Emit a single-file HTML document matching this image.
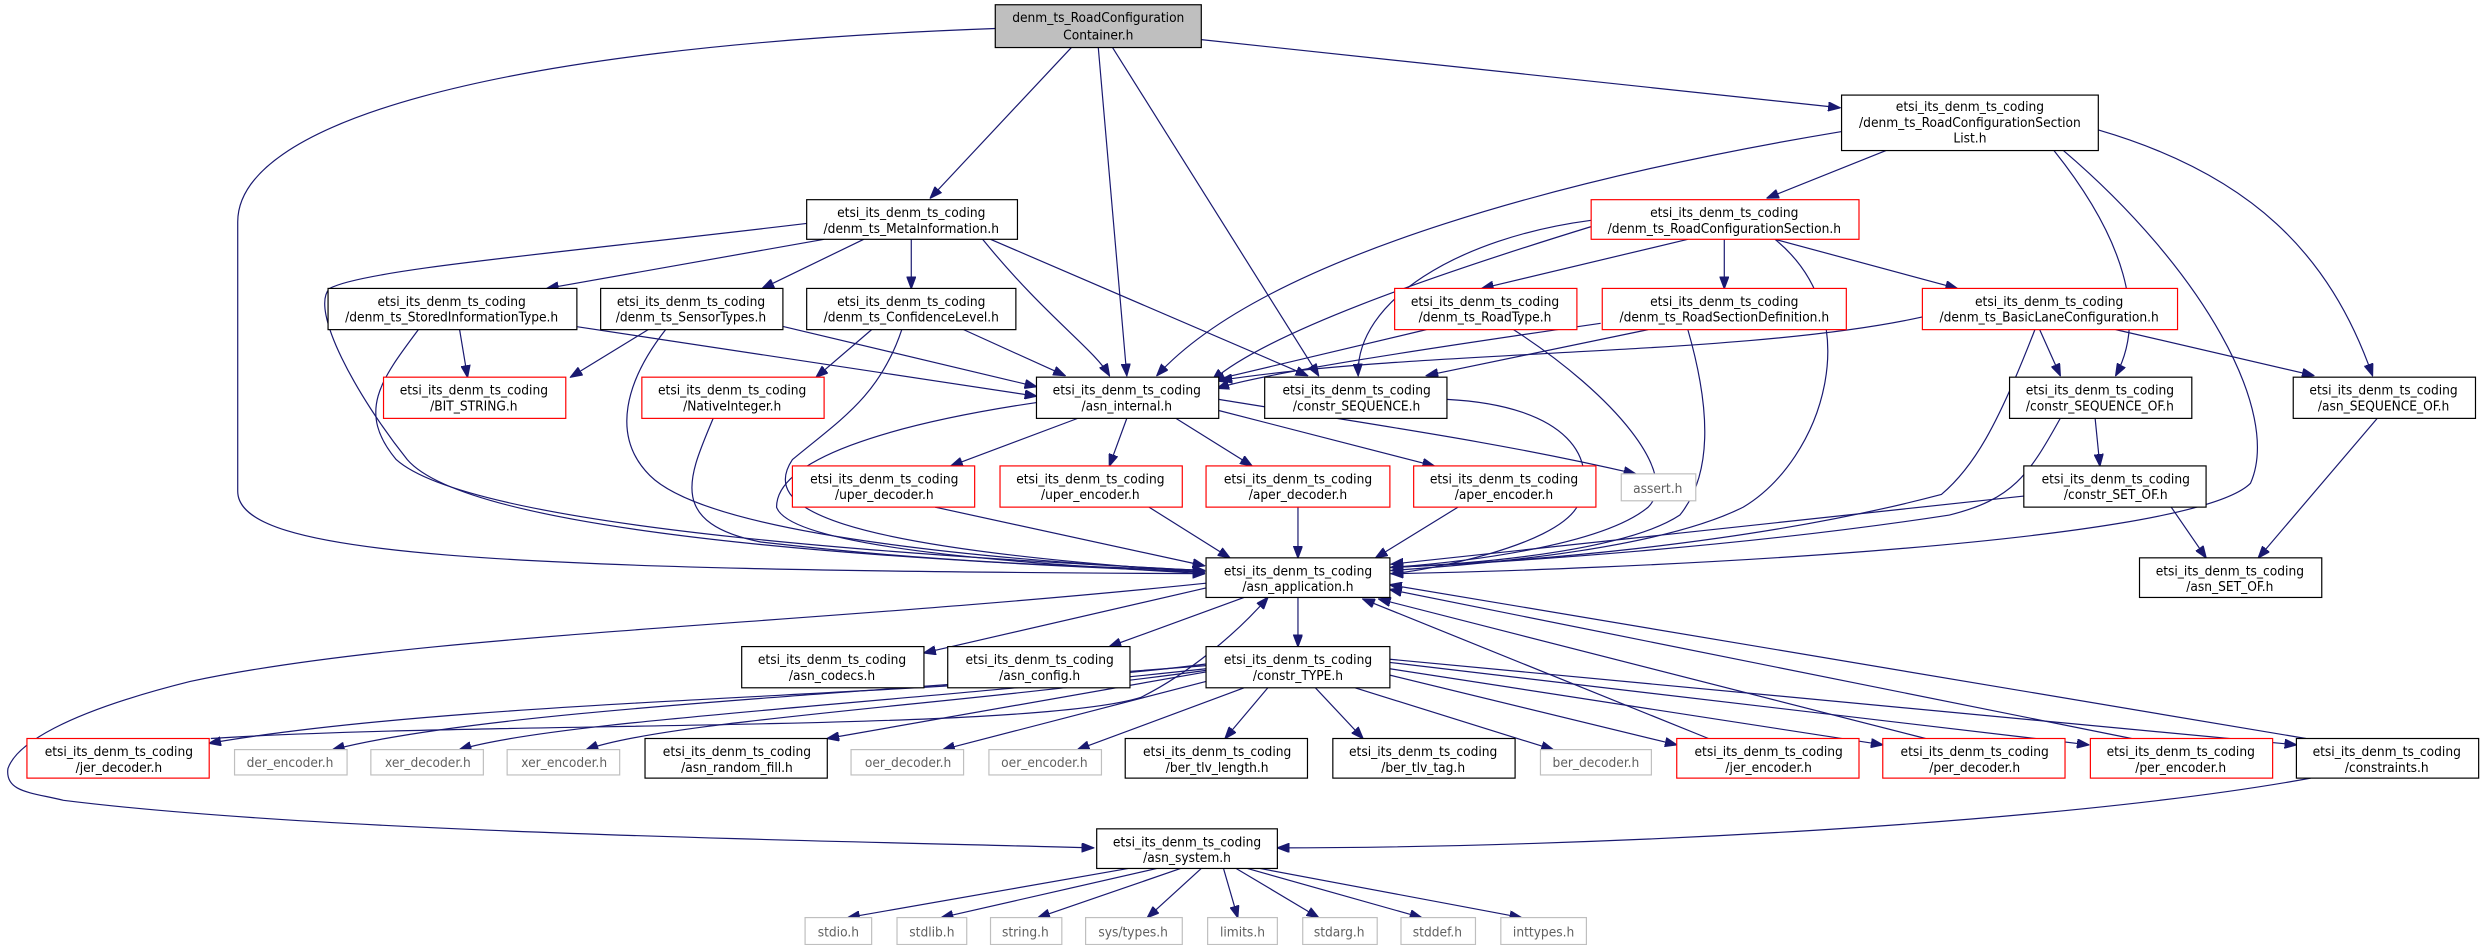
<!DOCTYPE html>
<html><head><meta charset="utf-8"><style>
html,body{margin:0;padding:0;background:#fff;}
svg{display:block;}
text{font-family:"DejaVu Sans Condensed","Liberation Sans Narrow","Liberation Sans",sans-serif;font-size:8.6px;fill:#000;text-anchor:middle;}
.g text,text.g{fill:#606060;}
.e path{fill:none;stroke:#191970;stroke-width:0.75;}
rect{fill:#fff;stroke-width:0.75;}
.k{stroke:#000;}
.r{stroke:#ff0000;}
.gr{stroke:#bfbfbf;}
</style></head><body>
<svg width="2485" height="945" viewBox="0 0 1568 596.3" preserveAspectRatio="none" xmlns="http://www.w3.org/2000/svg">
<defs><marker id="a" markerUnits="userSpaceOnUse" markerWidth="8" markerHeight="6" refX="7.5" refY="3" orient="auto"><path d="M0,0 L8,3 L0,6 z" fill="#191970" stroke="#191970" stroke-width="0.5"/></marker></defs>
<g class="e" marker-end="url(#a)">
<path d="M676,30 L587,125"/>
<path d="M693,30 L711,237"/>
<path d="M702,30 L832,237"/>
<path d="M758,25 L1161,68"/>
<path d="M628,18 C300,30 150,80 150,140 L150,310 C150,350 300,360 760,362"/>
<path d="M1190,95 L1115,125"/>
<path d="M1162,83 C1000,110 800,160 730,237"/>
<path d="M1296,95 C1340,150 1355,200 1335,237"/>
<path d="M1324,82 C1420,110 1470,160 1497,237"/>
<path d="M1302,95 C1390,170 1440,260 1420,305 C1380,345 1000,360 878,362"/>
<path d="M520,151 L345,182"/>
<path d="M545,151 L481,182"/>
<path d="M575,151 L575,182"/>
<path d="M620,151 C660,200 690,220 700,237"/>
<path d="M625,151 L825,237"/>
<path d="M509,141 C350,160 230,170 208,182 C195,195 225,250 257,290 C300,340 600,355 760,361"/>
<path d="M290,208 L295,238"/>
<path d="M363,206 L654,250"/>
<path d="M264,208 C240,240 225,260 250,290 C300,335 600,352 760,360"/>
<path d="M409,208 L360,238"/>
<path d="M494,206 L654,244"/>
<path d="M420,208 C395,240 385,275 410,300 C450,340 650,355 760,360"/>
<path d="M550,208 L515,238"/>
<path d="M608,208 L672,237"/>
<path d="M569,208 C555,250 530,265 500,290 C480,320 520,345 760,361"/>
<path d="M450,264 C435,300 420,330 480,342 C600,356 700,358 760,360"/>
<path d="M680,264 L600,294"/>
<path d="M711,264 L700,294"/>
<path d="M742,264 L790,294"/>
<path d="M765,258 L905,294"/>
<path d="M769,252 C880,270 950,280 1032,299"/>
<path d="M654,254 C560,268 490,290 490,320 C500,350 700,358 760,362"/>
<path d="M590,320 L760,357"/>
<path d="M725,320 L776,352"/>
<path d="M819,320 L819,352"/>
<path d="M920,320 L868,352"/>
<path d="M913,252 C990,256 1010,290 995,320 C980,345 900,360 878,362"/>
<path d="M1004,143 C900,175 800,210 765,240"/>
<path d="M1004,139 C920,150 855,190 857,237"/>
<path d="M1065,151 L935,182"/>
<path d="M1088,151 L1088,182"/>
<path d="M1120,151 L1235,182"/>
<path d="M1120,151 C1180,200 1150,290 1100,320 C1050,345 950,355 878,360"/>
<path d="M900,208 L765,240"/>
<path d="M955,208 C1020,250 1060,300 1040,320 C1010,345 920,355 878,358"/>
<path d="M1010,204 C900,220 800,235 768,245"/>
<path d="M1040,208 L900,237"/>
<path d="M1065,208 C1080,260 1080,300 1060,325 C1030,345 950,355 878,358"/>
<path d="M1213,200 C1100,225 900,220 770,240"/>
<path d="M1287,208 L1300,237"/>
<path d="M1335,208 L1460,237"/>
<path d="M1284,208 C1260,270 1245,295 1225,312 C1100,345 950,355 878,358"/>
<path d="M1322,264 L1325,294"/>
<path d="M1300,264 C1280,300 1270,315 1230,325 C1100,345 950,355 878,358"/>
<path d="M1500,264 L1425,352"/>
<path d="M1370,320 L1392,352"/>
<path d="M1277,313 L878,356"/>
<path d="M761,371 L583,412"/>
<path d="M785,377 L700,408"/>
<path d="M819,377 L819,408"/>
<path d="M761,368 C500,395 260,400 120,430 C40,450 10,470 5,485 C3,500 20,500 40,505 C200,525 500,530 690,535"/>
<path d="M761,419 C600,440 300,440 132,469"/>
<path d="M761,420 C500,440 300,450 210,473"/>
<path d="M761,422 C550,445 350,455 290,473"/>
<path d="M761,423 C600,445 420,455 370,473"/>
<path d="M761,424 L522,466"/>
<path d="M761,430 L595,473"/>
<path d="M785,434 L680,473"/>
<path d="M800,434 L773,466"/>
<path d="M830,434 L860,466"/>
<path d="M855,434 L980,473"/>
<path d="M877,426 L1058,470"/>
<path d="M877,422 L1188,470"/>
<path d="M877,418 L1318,470"/>
<path d="M877,416 L1449,470"/>
<path d="M133,466 C300,455 650,462 720,440 C750,425 780,400 800,377"/>
<path d="M1078,466 L860,378"/>
<path d="M1215,466 L870,378"/>
<path d="M1345,466 L877,372"/>
<path d="M1455,466 L877,369"/>
<path d="M1458,491 C1300,520 1000,535 806,535"/>
<path d="M712,548 L535,579"/>
<path d="M730,548 L594,579"/>
<path d="M745,548 L655,579"/>
<path d="M758,548 L724,579"/>
<path d="M772,548 L781,579"/>
<path d="M780,548 L832,579"/>
<path d="M787,548 L897,579"/>
<path d="M795,548 L960,579"/>
</g>

<rect x="628" y="3" width="130" height="27" style="fill:#bfbfbf" class="k"/>
<text x="693" y="14">denm_ts_RoadConfiguration</text><text x="693" y="25">Container.h</text>

<rect x="1162" y="60" width="162" height="35" class="k"/>
<text x="1243" y="70">etsi_its_denm_ts_coding</text><text x="1243" y="80">/denm_ts_RoadConfigurationSection</text><text x="1243" y="90">List.h</text>

<rect x="509" y="126" width="133" height="25" class="k"/>
<text x="575" y="137">etsi_its_denm_ts_coding</text><text x="575" y="147">/denm_ts_MetaInformation.h</text>

<rect x="1004" y="126" width="169" height="25" class="r"/>
<text x="1088" y="137">etsi_its_denm_ts_coding</text><text x="1088" y="147">/denm_ts_RoadConfigurationSection.h</text>

<rect x="207" y="182" width="157" height="26" class="k"/>
<text x="285" y="193">etsi_its_denm_ts_coding</text><text x="285" y="203">/denm_ts_StoredInformationType.h</text>

<rect x="379" y="182" width="115" height="26" class="k"/>
<text x="436" y="193">etsi_its_denm_ts_coding</text><text x="436" y="203">/denm_ts_SensorTypes.h</text>

<rect x="509" y="182" width="132" height="26" class="k"/>
<text x="575" y="193">etsi_its_denm_ts_coding</text><text x="575" y="203">/denm_ts_ConfidenceLevel.h</text>

<rect x="880" y="182" width="115" height="26" class="r"/>
<text x="937" y="193">etsi_its_denm_ts_coding</text><text x="937" y="203">/denm_ts_RoadType.h</text>

<rect x="1011" y="182" width="154" height="26" class="r"/>
<text x="1088" y="193">etsi_its_denm_ts_coding</text><text x="1088" y="203">/denm_ts_RoadSectionDefinition.h</text>

<rect x="1213" y="182" width="161" height="26" class="r"/>
<text x="1293" y="193">etsi_its_denm_ts_coding</text><text x="1293" y="203">/denm_ts_BasicLaneConfiguration.h</text>

<rect x="242" y="238" width="115" height="26" class="r"/>
<text x="299" y="249">etsi_its_denm_ts_coding</text><text x="299" y="259">/BIT_STRING.h</text>

<rect x="405" y="238" width="115" height="26" class="r"/>
<text x="462" y="249">etsi_its_denm_ts_coding</text><text x="462" y="259">/NativeInteger.h</text>

<rect x="654" y="238" width="115" height="26" class="k"/>
<text x="711" y="249">etsi_its_denm_ts_coding</text><text x="711" y="259">/asn_internal.h</text>

<rect x="798" y="238" width="115" height="26" class="k"/>
<text x="856" y="249">etsi_its_denm_ts_coding</text><text x="856" y="259">/constr_SEQUENCE.h</text>

<rect x="1268" y="238" width="115" height="26" class="k"/>
<text x="1325" y="249">etsi_its_denm_ts_coding</text><text x="1325" y="259">/constr_SEQUENCE_OF.h</text>

<rect x="1447" y="238" width="115" height="26" class="k"/>
<text x="1504" y="249">etsi_its_denm_ts_coding</text><text x="1504" y="259">/asn_SEQUENCE_OF.h</text>

<rect x="500" y="294" width="115" height="26" class="r"/>
<text x="558" y="305">etsi_its_denm_ts_coding</text><text x="558" y="315">/uper_decoder.h</text>

<rect x="631" y="294" width="115" height="26" class="r"/>
<text x="688" y="305">etsi_its_denm_ts_coding</text><text x="688" y="315">/uper_encoder.h</text>

<rect x="761" y="294" width="116" height="26" class="r"/>
<text x="819" y="305">etsi_its_denm_ts_coding</text><text x="819" y="315">/aper_decoder.h</text>

<rect x="892" y="294" width="115" height="26" class="r"/>
<text x="949" y="305">etsi_its_denm_ts_coding</text><text x="949" y="315">/aper_encoder.h</text>

<rect x="1023" y="299" width="47" height="17" class="gr"/>
<text x="1046" y="311" class="g">assert.h</text>

<rect x="1277" y="294" width="115" height="26" class="k"/>
<text x="1335" y="305">etsi_its_denm_ts_coding</text><text x="1335" y="315">/constr_SET_OF.h</text>

<rect x="761" y="352" width="116" height="25" class="k"/>
<text x="819" y="363">etsi_its_denm_ts_coding</text><text x="819" y="373">/asn_application.h</text>

<rect x="1350" y="352" width="115" height="25" class="k"/>
<text x="1407" y="363">etsi_its_denm_ts_coding</text><text x="1407" y="373">/asn_SET_OF.h</text>

<rect x="468" y="408" width="115" height="26" class="k"/>
<text x="525" y="419">etsi_its_denm_ts_coding</text><text x="525" y="429">/asn_codecs.h</text>

<rect x="598" y="408" width="115" height="26" class="k"/>
<text x="656" y="419">etsi_its_denm_ts_coding</text><text x="656" y="429">/asn_config.h</text>

<rect x="761" y="408" width="116" height="26" class="k"/>
<text x="819" y="419">etsi_its_denm_ts_coding</text><text x="819" y="429">/constr_TYPE.h</text>

<rect x="17" y="466" width="115" height="25" class="r"/>
<text x="75" y="477">etsi_its_denm_ts_coding</text><text x="75" y="487">/jer_decoder.h</text>

<rect x="148" y="473" width="71" height="16" class="gr"/><text x="183" y="484" class="g">der_encoder.h</text>
<rect x="234" y="473" width="71" height="16" class="gr"/><text x="270" y="484" class="g">xer_decoder.h</text>
<rect x="320" y="473" width="71" height="16" class="gr"/><text x="356" y="484" class="g">xer_encoder.h</text>

<rect x="407" y="466" width="115" height="25" class="k"/>
<text x="465" y="477">etsi_its_denm_ts_coding</text><text x="465" y="487">/asn_random_fill.h</text>

<rect x="537" y="473" width="71" height="16" class="gr"/><text x="573" y="484" class="g">oer_decoder.h</text>
<rect x="624" y="473" width="71" height="16" class="gr"/><text x="659" y="484" class="g">oer_encoder.h</text>

<rect x="710" y="466" width="115" height="25" class="k"/>
<text x="768" y="477">etsi_its_denm_ts_coding</text><text x="768" y="487">/ber_tlv_length.h</text>

<rect x="841" y="466" width="115" height="25" class="k"/>
<text x="898" y="477">etsi_its_denm_ts_coding</text><text x="898" y="487">/ber_tlv_tag.h</text>

<rect x="972" y="473" width="70" height="16" class="gr"/><text x="1007" y="484" class="g">ber_decoder.h</text>

<rect x="1058" y="466" width="115" height="25" class="r"/>
<text x="1116" y="477">etsi_its_denm_ts_coding</text><text x="1116" y="487">/jer_encoder.h</text>

<rect x="1188" y="466" width="115" height="25" class="r"/>
<text x="1246" y="477">etsi_its_denm_ts_coding</text><text x="1246" y="487">/per_decoder.h</text>

<rect x="1319" y="466" width="115" height="25" class="r"/>
<text x="1376" y="477">etsi_its_denm_ts_coding</text><text x="1376" y="487">/per_encoder.h</text>

<rect x="1449" y="466" width="115" height="25" class="k"/>
<text x="1506" y="477">etsi_its_denm_ts_coding</text><text x="1506" y="487">/constraints.h</text>

<rect x="692" y="523" width="114" height="25" class="k"/>
<text x="749" y="534">etsi_its_denm_ts_coding</text><text x="749" y="544">/asn_system.h</text>

<rect x="508" y="579" width="42" height="17" class="gr"/><text x="529" y="591" class="g">stdio.h</text>
<rect x="566" y="579" width="44" height="17" class="gr"/><text x="588" y="591" class="g">stdlib.h</text>
<rect x="625" y="579" width="45" height="17" class="gr"/><text x="647" y="591" class="g">string.h</text>
<rect x="685" y="579" width="61" height="17" class="gr"/><text x="715" y="591" class="g">sys/types.h</text>
<rect x="762" y="579" width="44" height="17" class="gr"/><text x="784" y="591" class="g">limits.h</text>
<rect x="822" y="579" width="47" height="17" class="gr"/><text x="845" y="591" class="g">stdarg.h</text>
<rect x="884" y="579" width="47" height="17" class="gr"/><text x="907" y="591" class="g">stddef.h</text>
<rect x="947" y="579" width="54" height="17" class="gr"/><text x="974" y="591" class="g">inttypes.h</text>
</svg>
</body></html>
